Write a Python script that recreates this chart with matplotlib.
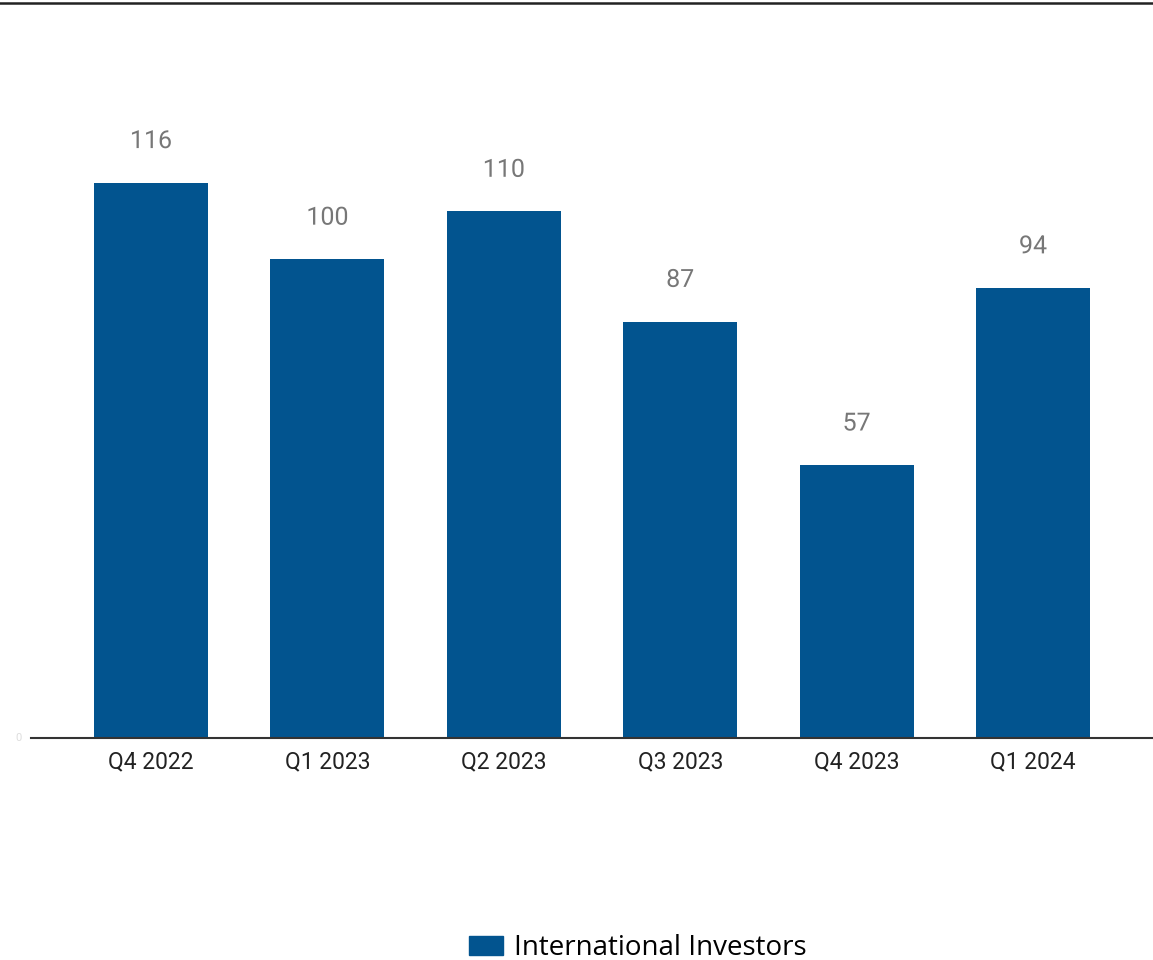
import matplotlib.pyplot as plt
import matplotlib.patheffects as pe
from matplotlib.patches import Patch

quarters = ["Q4 2022", "Q1 2023", "Q2 2023", "Q3 2023", "Q4 2023", "Q1 2024"]
investors = [116, 100, 110, 87, 57, 94]
series_name = "International Investors"

bar_color = "#02548f"

fig = plt.figure(figsize=(11.53, 9.6), dpi=100)
ax = fig.add_axes([31 / 1153, 222 / 960, 1122 / 1153, 718 / 960])

x = range(len(quarters))
ax.bar(x, investors, width=0.646, color=bar_color, zorder=2)

for i, v in zip(x, investors):
    ax.annotate(str(v), (i, v), xytext=(0, 30), textcoords="offset points",
                ha="center", va="center", fontsize=18, color="#777777",
                family="Roboto",
                path_effects=[pe.withStroke(linewidth=3, foreground="white")])

ax.set_xlim(-0.68, 5.68)
ax.set_ylim(0, 150)
ax.set_xticks(list(x))
ax.set_xticklabels(quarters, family="Roboto", fontsize=16.5, color="#222222")
ax.tick_params(axis="x", length=0, pad=9)
ax.set_yticks([])
for s in ["top", "right", "left"]:
    ax.spines[s].set_visible(False)
ax.spines["bottom"].set_color("#333333")
ax.spines["bottom"].set_linewidth(1.5)

fig.text(18 / 1153, 1 - 738 / 960, "0", fontsize=8, color="#dddddd",
         ha="center", va="center", family="Roboto")

# top border line
fig.add_artist(plt.Line2D([0, 1], [1 - 2.5 / 960, 1 - 2.5 / 960], color="#222222", lw=1.8))

handles = [Patch(color=bar_color, label=series_name)]
fig.legend(handles=handles, loc="center", bbox_to_anchor=(638 / 1153, 1 - 948 / 960),
           frameon=False, prop={"family": "Open Sans", "size": 20},
           handlelength=1.22, handleheight=0.65, handletextpad=0.4)

fig.savefig("out.png", dpi=100)
